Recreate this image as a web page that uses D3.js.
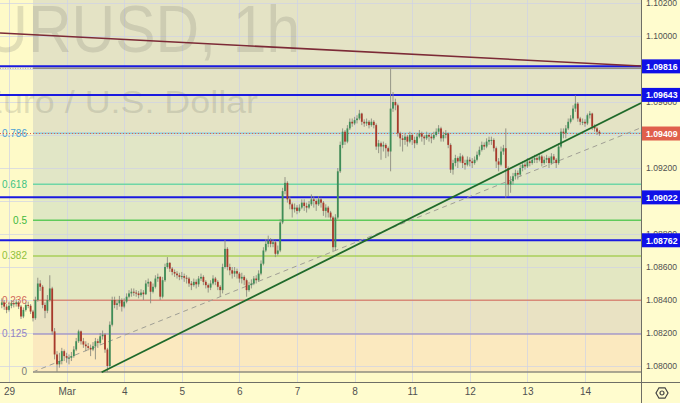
<!DOCTYPE html>
<html><head><meta charset="utf-8">
<script src="https://cdn.jsdelivr.net/npm/d3@7"></script>
<style>
html,body{margin:0;padding:0;background:#fffcce;}
svg{display:block;font-family:"Liberation Sans",Arial,sans-serif;}
</style></head>
<body>
<svg id="c" width="680" height="403"></svg>
<script>
// ---------- DATA ----------
const dayLabels = ["29","Mar","4","5","6","7","8","11","12","13","14"];
const dayStartIndex = [3,27,51,75,99,123,147,171,195,219,243];
const priceTicks = [1.080,1.082,1.084,1.086,1.088,1.090,1.092,1.094,1.096,1.098,1.100,1.102];
const levelLines = [1.09816,1.09643,1.09022,1.08762];
const lastPrice = 1.09409;
const fibLevels = [0,0.125,0.236,0.382,0.5,0.618,0.786,1];
const fibLabels = ["0","0.125","0.236","0.382","0.5","0.618","0.786",""];
const fibLow = 1.07964, fibHigh = 1.09804, fibStartIndex = 13;
const resistanceLine = [[-0.75,1.10018],[266.33,1.09818]];
const supportLine = [[41.6,1.07962],[266.33,1.09594]];
const dashedLine = [[13,1.07964],[266.33,1.09444]];
const titleText = "EURUSD, 1h";
const subtitleText = "Euro / U.S. Dollar";
const firstOpen = 1.08370;
// each candle: [high, low, close]; open = previous close
const candles = [
[1.08410,1.08350,1.08385],[1.08400,1.08340,1.08360],[1.08375,1.08320,1.08340],[1.08390,1.08330,1.08365],
[1.08400,1.08350,1.08380],[1.08395,1.08355,1.08375],[1.08405,1.08360,1.08385],[1.08395,1.08345,1.08360],
[1.08370,1.08285,1.08300],[1.08355,1.08290,1.08340],[1.08385,1.08330,1.08370],[1.08390,1.08350,1.08365],
[1.08375,1.08315,1.08330],[1.08340,1.08270,1.08290],[1.08420,1.08280,1.08400],[1.08535,1.08390,1.08500],
[1.08520,1.08455,1.08480],[1.08490,1.08350,1.08370],[1.08385,1.08290,1.08335],[1.08430,1.08320,1.08400],
[1.08550,1.08390,1.08470],[1.08480,1.08190,1.08210],[1.08230,1.08040,1.08070],[1.08090,1.07964,1.08010],
[1.08080,1.07990,1.08030],[1.08110,1.08010,1.08090],[1.08100,1.08030,1.08060],[1.08080,1.08020,1.08050],
[1.08070,1.08010,1.08050],[1.08085,1.08030,1.08060],[1.08120,1.08050,1.08100],[1.08170,1.08090,1.08150],
[1.08220,1.08140,1.08210],[1.08215,1.08130,1.08150],[1.08170,1.08110,1.08130],[1.08150,1.08090,1.08120],
[1.08140,1.08095,1.08110],[1.08130,1.08060,1.08100],[1.08145,1.08090,1.08120],[1.08170,1.08040,1.08150],
[1.08165,1.08110,1.08140],[1.08200,1.08130,1.08180],[1.08215,1.08160,1.08190],[1.08200,1.08080,1.08100],
[1.08110,1.07964,1.08000],[1.08270,1.07990,1.08250],[1.08420,1.08240,1.08400],[1.08420,1.08350,1.08370],
[1.08400,1.08340,1.08380],[1.08425,1.08360,1.08400],[1.08410,1.08330,1.08360],[1.08410,1.08350,1.08390],
[1.08440,1.08380,1.08420],[1.08460,1.08410,1.08440],[1.08470,1.08420,1.08450],[1.08470,1.08425,1.08445],
[1.08460,1.08420,1.08440],[1.08455,1.08410,1.08430],[1.08465,1.08420,1.08445],[1.08460,1.08400,1.08435],
[1.08520,1.08430,1.08500],[1.08530,1.08480,1.08510],[1.08515,1.08380,1.08450],[1.08500,1.08440,1.08480],
[1.08550,1.08470,1.08530],[1.08560,1.08510,1.08540],[1.08545,1.08400,1.08420],[1.08540,1.08410,1.08520],
[1.08620,1.08510,1.08600],[1.08660,1.08590,1.08625],[1.08630,1.08570,1.08590],[1.08600,1.08550,1.08570],
[1.08585,1.08540,1.08560],[1.08575,1.08530,1.08550],[1.08565,1.08520,1.08540],[1.08570,1.08525,1.08545],
[1.08560,1.08510,1.08535],[1.08550,1.08500,1.08530],[1.08540,1.08480,1.08500],[1.08515,1.08460,1.08490],
[1.08530,1.08480,1.08510],[1.08525,1.08470,1.08495],[1.08545,1.08480,1.08530],[1.08560,1.08515,1.08540],
[1.08550,1.08490,1.08510],[1.08520,1.08470,1.08490],[1.08500,1.08445,1.08475],[1.08520,1.08460,1.08500],
[1.08550,1.08490,1.08530],[1.08540,1.08490,1.08510],[1.08520,1.08460,1.08480],[1.08490,1.08420,1.08460],
[1.08620,1.08440,1.08600],[1.08764,1.08590,1.08710],[1.08720,1.08580,1.08600],[1.08620,1.08550,1.08580],
[1.08600,1.08530,1.08560],[1.08600,1.08540,1.08575],[1.08590,1.08530,1.08560],[1.08570,1.08505,1.08530],
[1.08565,1.08500,1.08540],[1.08550,1.08490,1.08520],[1.08530,1.08420,1.08460],[1.08510,1.08450,1.08490],
[1.08525,1.08470,1.08500],[1.08545,1.08490,1.08530],[1.08550,1.08500,1.08520],[1.08580,1.08510,1.08560],
[1.08640,1.08550,1.08620],[1.08720,1.08610,1.08700],[1.08770,1.08690,1.08740],[1.08790,1.08720,1.08760],
[1.08775,1.08720,1.08740],[1.08770,1.08720,1.08750],[1.08760,1.08660,1.08680],[1.08730,1.08670,1.08700],
[1.08890,1.08690,1.08870],[1.09080,1.08860,1.09060],[1.09145,1.09040,1.09110],[1.09120,1.08990,1.09010],
[1.09030,1.08950,1.08980],[1.08990,1.08900,1.08950],[1.08985,1.08930,1.08960],[1.08975,1.08920,1.08940],
[1.08980,1.08930,1.08960],[1.09010,1.08950,1.08990],[1.09010,1.08940,1.08970],[1.08990,1.08930,1.08960],
[1.09000,1.08950,1.08980],[1.09040,1.08970,1.09010],[1.09030,1.08960,1.09000],[1.09010,1.08940,1.08980],
[1.09030,1.08970,1.09010],[1.09020,1.08960,1.08990],[1.09000,1.08910,1.08940],[1.08980,1.08900,1.08960],
[1.08970,1.08900,1.08930],[1.08940,1.08880,1.08900],[1.08910,1.08690,1.08720],[1.08920,1.08700,1.08900],
[1.09200,1.08890,1.09180],[1.09360,1.09170,1.09340],[1.09440,1.09320,1.09420],[1.09430,1.09340,1.09360],
[1.09460,1.09350,1.09440],[1.09500,1.09430,1.09480],[1.09500,1.09450,1.09470],[1.09510,1.09460,1.09490],
[1.09520,1.09470,1.09500],[1.09552,1.09490,1.09530],[1.09535,1.09460,1.09480],[1.09495,1.09450,1.09470],
[1.09500,1.09455,1.09480],[1.09490,1.09440,1.09460],[1.09500,1.09450,1.09480],[1.09490,1.09440,1.09460],
[1.09470,1.09310,1.09330],[1.09370,1.09290,1.09350],[1.09360,1.09250,1.09330],[1.09360,1.09300,1.09340],
[1.09350,1.09260,1.09320],[1.09330,1.09270,1.09300],[1.09810,1.09180,1.09560],[1.09660,1.09540,1.09600],
[1.09620,1.09550,1.09580],[1.09590,1.09390,1.09410],[1.09420,1.09330,1.09380],[1.09400,1.09300,1.09370],
[1.09410,1.09340,1.09390],[1.09400,1.09330,1.09360],[1.09420,1.09350,1.09400],[1.09410,1.09340,1.09370],
[1.09390,1.09320,1.09350],[1.09410,1.09340,1.09390],[1.09430,1.09380,1.09410],[1.09420,1.09360,1.09390],
[1.09400,1.09340,1.09380],[1.09420,1.09370,1.09400],[1.09410,1.09360,1.09390],[1.09410,1.09350,1.09380],
[1.09420,1.09370,1.09400],[1.09440,1.09390,1.09420],[1.09460,1.09410,1.09440],[1.09450,1.09360,1.09380],
[1.09420,1.09360,1.09400],[1.09430,1.09380,1.09410],[1.09415,1.09320,1.09340],[1.09350,1.09170,1.09190],
[1.09250,1.09160,1.09230],[1.09280,1.09210,1.09260],[1.09270,1.09200,1.09240],[1.09290,1.09230,1.09270],
[1.09280,1.09200,1.09230],[1.09250,1.09190,1.09220],[1.09270,1.09210,1.09250],[1.09265,1.09210,1.09240],
[1.09260,1.09200,1.09230],[1.09270,1.09220,1.09250],[1.09300,1.09240,1.09280],[1.09330,1.09270,1.09310],
[1.09360,1.09300,1.09340],[1.09355,1.09310,1.09330],[1.09380,1.09320,1.09360],[1.09390,1.09340,1.09370],
[1.09390,1.09340,1.09370],[1.09380,1.09300,1.09320],[1.09330,1.09200,1.09240],[1.09260,1.09180,1.09220],
[1.09330,1.09210,1.09300],[1.09340,1.09280,1.09320],[1.09440,1.09020,1.09200],[1.09210,1.09030,1.09100],
[1.09150,1.09050,1.09120],[1.09170,1.09100,1.09150],[1.09190,1.09130,1.09170],[1.09185,1.09130,1.09160],
[1.09220,1.09150,1.09200],[1.09240,1.09180,1.09220],[1.09240,1.09190,1.09210],[1.09260,1.09200,1.09240],
[1.09255,1.09210,1.09230],[1.09270,1.09220,1.09250],[1.09280,1.09230,1.09260],[1.09275,1.09230,1.09250],
[1.09290,1.09240,1.09270],[1.09280,1.09210,1.09230],[1.09270,1.09220,1.09250],[1.09280,1.09230,1.09260],
[1.09270,1.09200,1.09230],[1.09290,1.09220,1.09270],[1.09285,1.09230,1.09250],[1.09260,1.09200,1.09230],
[1.09350,1.09220,1.09330],[1.09440,1.09320,1.09420],[1.09440,1.09380,1.09410],[1.09460,1.09380,1.09440],
[1.09500,1.09430,1.09480],[1.09520,1.09470,1.09500],[1.09580,1.09490,1.09560],[1.09640,1.09540,1.09590],
[1.09600,1.09480,1.09500],[1.09510,1.09460,1.09480],[1.09500,1.09460,1.09480],[1.09495,1.09450,1.09470],
[1.09530,1.09460,1.09520],[1.09545,1.09500,1.09530],[1.09535,1.09430,1.09450],[1.09465,1.09420,1.09440],
[1.09450,1.09400,1.09420],[1.09430,1.09395,1.09409]
];

// ---------- STYLES ----------
const fibLineColors = ["#8f8c7f","#a99bc5","#d88a78","#a8cf58","#5fca5a","#6fd6a6","#8ccbe0","#8f8c7f"];
const fibTextColors = ["#7d7d78","#9384c4","#d0685a","#8fc03a","#3cb83c","#3cc283","#4a9fd6","#7d7d78"];
const fibZoneColors = ["#fbe9bf","#e9e2c3","#e3e7c2","#e1e8c2","#e0e8c4","#e1e6c6","#e4e3c5"];
const W = 680, H = 403, plotR = 641, plotB = 382;

const svg = d3.select("#c");
const x = d3.scaleLinear().domain([-0.75, 266.33]).range([0, plotR]);
const y = d3.scaleLinear().domain([1.080, 1.102]).range([366, 3]);
const fibPrice = l => fibLow + (fibHigh - fibLow) * l;

const plot = svg.append("g");
plot.append("defs").append("clipPath").attr("id","pc").append("rect")
  .attr("x",0).attr("y",0).attr("width",plotR).attr("height",plotB);
const g = plot.append("g").attr("clip-path","url(#pc)");

// background
g.append("rect").attr("x",0).attr("y",0).attr("width",plotR).attr("height",plotB).attr("fill","#fefac8");
// fib zones
const fx0 = x(fibStartIndex);
fibLevels.slice(0,-1).forEach((l,i)=>{
  const top = i === fibLevels.length-2 ? 0 : y(fibPrice(fibLevels[i+1]));
  const bot = y(fibPrice(l));
  g.append("rect").attr("x",fx0).attr("y",top).attr("width",plotR-fx0).attr("height",bot-top)
    .attr("fill",fibZoneColors[i]);
});

// grid
g.selectAll(".hg").data(priceTicks).join("line")
  .attr("x1",0).attr("x2",plotR).attr("y1",d=>y(d)+0.5).attr("y2",d=>y(d)+0.5)
  .attr("stroke","#cfd2e6").attr("stroke-opacity",0.7).attr("stroke-width",1);
g.selectAll(".vg").data(dayStartIndex).join("line")
  .attr("x1",d=>Math.round(x(d))+0.5).attr("x2",d=>Math.round(x(d))+0.5).attr("y1",0).attr("y2",plotB)
  .attr("stroke","#cfd2e6").attr("stroke-opacity",0.7).attr("stroke-width",1);

// watermark
g.append("text").attr("x",-56).attr("y",52)
  .attr("font-size",66).attr("textLength",356).attr("lengthAdjust","spacingAndGlyphs")
  .attr("fill","#7a7a70").attr("fill-opacity",0.22).text(titleText);
g.append("text").attr("x",-21).attr("y",113)
  .attr("font-size",32).attr("textLength",279).attr("lengthAdjust","spacingAndGlyphs")
  .attr("fill","#7a7a70").attr("fill-opacity",0.22).text(subtitleText);

// fib lines
fibLevels.forEach((l,i)=>{
  g.append("line").attr("x1",fx0).attr("x2",plotR).attr("y1",y(fibPrice(l))).attr("y2",y(fibPrice(l)))
    .attr("stroke",fibLineColors[i]).attr("stroke-width",1.5);
  if (fibLabels[i]) g.append("text").attr("x",27).attr("y",y(fibPrice(l))+3.5).attr("text-anchor","end")
    .attr("font-size",10).attr("fill",fibTextColors[i]).text(fibLabels[i]);
});
// dotted stub on the left at the top fib level
g.append("line").attr("x1",0).attr("x2",fx0).attr("y1",y(fibPrice(1))).attr("y2",y(fibPrice(1)))
  .attr("stroke","#a8a8a0").attr("stroke-width",1).attr("stroke-dasharray","1,1.5");
// last price dotted line
g.append("line").attr("x1",0).attr("x2",plotR).attr("y1",y(lastPrice)).attr("y2",y(lastPrice))
  .attr("stroke","#e0604c").attr("stroke-width",1).attr("stroke-dasharray","1,2");

// horizontal blue levels
g.selectAll(".lv").data(levelLines).join("line")
  .attr("x1",0).attr("x2",plotR).attr("y1",d=>y(d)).attr("y2",d=>y(d))
  .attr("stroke","#1a1ae0").attr("stroke-width",2);

// trend lines
const lineGen = d3.line().x(d=>x(d[0])).y(d=>y(d[1]));
g.append("path").attr("d",lineGen(resistanceLine)).attr("stroke","#7c2a36").attr("stroke-width",1.6).attr("fill","none");
g.append("path").attr("d",lineGen(dashedLine)).attr("stroke","#a09f95").attr("stroke-width",1).attr("stroke-dasharray","5,4").attr("fill","none");

// candles
const cdata = candles.map((d,i)=>({i, o: i===0?firstOpen:candles[i-1][2], h:d[0], l:d[1], c:d[2]}));
const cg = g.append("g");
cg.selectAll(".wk").data(cdata).join("line")
  .attr("x1",d=>x(d.i)).attr("x2",d=>x(d.i)).attr("y1",d=>y(d.h)).attr("y2",d=>y(d.l))
  .attr("stroke","#8c8c80").attr("stroke-width",0.9);
cg.selectAll(".bd").data(cdata).join("rect")
  .attr("x",d=>x(d.i)-0.9).attr("width",1.8)
  .attr("y",d=>y(Math.max(d.o,d.c))).attr("height",d=>Math.max(1,Math.abs(y(d.o)-y(d.c))))
  .attr("fill",d=>d.c>=d.o?"#3f8d57":"#a8392b");

g.append("path").attr("d",lineGen(supportLine)).attr("stroke","#1f6a2b").attr("stroke-width",1.8).attr("fill","none");

// axes lines
svg.append("line").attr("x1",plotR+0.5).attr("x2",plotR+0.5).attr("y1",0).attr("y2",H).attr("stroke","#6e6e66").attr("stroke-width",1);
svg.append("line").attr("x1",0).attr("x2",W).attr("y1",plotB+0.5).attr("y2",plotB+0.5).attr("stroke","#6e6e66").attr("stroke-width",1);

// bottom axis
const xAxis = d3.axisBottom(x).tickValues(dayStartIndex).tickFormat((d,i)=>dayLabels[i]).tickSize(0).tickPadding(6);
const xa = svg.append("g").attr("transform",`translate(0,${plotB})`).call(xAxis);
xa.select(".domain").remove();
xa.selectAll("text").attr("font-size",10).attr("fill","#505050").attr("font-family","Liberation Sans, Arial, sans-serif");

// right axis
const yAxis = d3.axisRight(y).tickValues(priceTicks).tickFormat(d=>d.toFixed(5)).tickSize(0).tickPadding(5);
const ya = svg.append("g").attr("transform",`translate(${plotR},0)`).call(yAxis);
ya.select(".domain").remove();
ya.selectAll("text").attr("font-size",9.2).attr("fill","#505050").attr("font-family","Liberation Sans, Arial, sans-serif")
  .attr("textLength",31).attr("lengthAdjust","spacingAndGlyphs");

// price boxes
function box(price, color){
  const yc = y(price);
  svg.append("rect").attr("x",plotR+1).attr("y",yc-7).attr("width",W-plotR-1).attr("height",14).attr("fill",color);
  svg.append("text").attr("x",plotR+5).attr("y",yc+3.5).attr("font-size",9.2).attr("font-weight","bold")
    .attr("textLength",31.5).attr("lengthAdjust","spacingAndGlyphs")
    .attr("fill","#ffffff").text(price.toFixed(5));
}
levelLines.forEach(p=>box(p,"#1010e8"));
box(lastPrice,"#e0604c");

// gear icon
const gear = svg.append("g").attr("transform","translate(662,393)");
gear.append("path").attr("d",d3.range(6).map(k=>{const a=Math.PI/3*k;return (k?"L":"M")+(6*Math.cos(a)).toFixed(2)+","+(6*Math.sin(a)).toFixed(2);}).join("")+"Z")
  .attr("fill","none").attr("stroke","#444").attr("stroke-width",1.2);
gear.append("circle").attr("r",2).attr("fill","none").attr("stroke","#444").attr("stroke-width",1.2);
</script>
</body></html>
